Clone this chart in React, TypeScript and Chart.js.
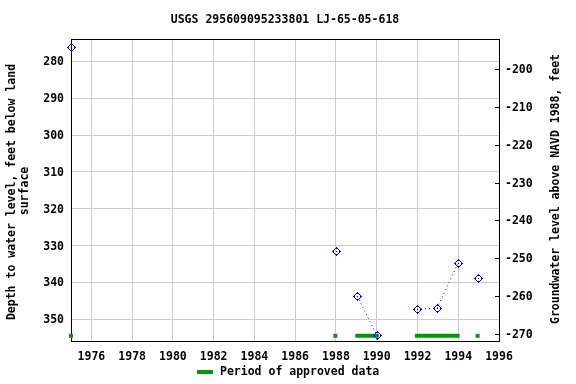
import { useEffect, useRef } from 'react';
import { Chart, registerables } from 'chart.js';

Chart.register(...registerables);

const TITLE = 'USGS 295609095233801 LJ-65-05-618';
const LEFT_TITLE_1 = 'Depth to water level, feet below land';
const LEFT_TITLE_2 = 'surface';
const RIGHT_TITLE = 'Groundwater level above NAVD 1988, feet';
const LEGEND_LABEL = 'Period of approved data';

// Measurements (decimal year, depth below land surface in feet)
const measYears = [1975.0, 1987.98, 1989.05, 1990.0, 1991.98, 1992.96, 1993.98, 1994.95];
const measDepths = [276.0, 331.4, 343.75, 354.3, 347.3, 347.0, 334.8, 338.9];
// Indices of measurements joined by dotted lines
const lineGroups = [[2, 3], [4, 5, 6]];

// Approved data periods
const approvedStarts = [1975.0, 1987.97, 1988.95, 1991.87, 1994.95];
const approvedEnds = [1975.0, 1987.97, 1990.1, 1994.07, 1994.95];
const approvedDepth = 354.5;

const xTicks = [1976, 1978, 1980, 1982, 1984, 1986, 1988, 1990, 1992, 1994, 1996];
const leftTicks = [280, 290, 300, 310, 320, 330, 340, 350];
const rightTicks = [-270, -260, -250, -240, -230, -220, -210, -200];

const X_MIN = 1975.0;
const X_MAX = 1996.0;
const LEFT_MIN = 273.9;
const LEFT_MAX = 355.9;
const RIGHT_MIN = -271.85;
const RIGHT_MAX = -192.05;

const FONT_FAMILY = "'DejaVu Sans Mono', monospace";
const FONT_SIZE = 11.5;
const FONT = `bold ${FONT_SIZE}px ${FONT_FAMILY}`;
const BLUE = '#0000ff';
const GREEN = '#009900';
const GRID = '#cccccc';

// pixel pattern of the measurement marker (ring with four stubs and a centre dot)
const MARKER_PIXELS: [number, number][] = [
  [0, -4],
  [-1, -3], [0, -3], [1, -3],
  [-2, -2], [2, -2],
  [-3, -1], [3, -1],
  [-4, 0], [-3, 0], [0, 0], [3, 0], [4, 0],
  [-3, 1], [3, 1],
  [-2, 2], [2, 2],
  [-1, 3], [0, 3], [1, 3],
  [0, 4],
];

export default function App() {
  const ref = useRef<HTMLCanvasElement | null>(null);

  useEffect(() => {
    document.body.style.margin = '0';
    const canvas = ref.current;
    if (!canvas) return;

    const points = measYears.map((x, i) => ({ x, y: measDepths[i] }));

    const lineData: any[] = [];
    lineGroups.forEach((g) => {
      g.forEach((i) => lineData.push({ x: measYears[i], y: measDepths[i] }));
      const last = g[g.length - 1];
      lineData.push({ x: measYears[last] + 0.001, y: null });
    });

    const approvedData: any[] = [];
    const approvedRadius: number[] = [];
    approvedStarts.forEach((s, i) => {
      const e = approvedEnds[i];
      if (s === e) {
        approvedData.push({ x: s, y: approvedDepth });
        approvedRadius.push(2.83);
      } else {
        approvedData.push({ x: s, y: approvedDepth });
        approvedRadius.push(0);
        approvedData.push({ x: e, y: approvedDepth });
        approvedRadius.push(0);
      }
      approvedData.push({ x: e + 0.001, y: null });
      approvedRadius.push(0);
    });

    const overlay = {
      id: 'overlay',
      beforeDatasetsDraw(chart: any) {
        const { ctx, chartArea } = chart;
        const { left, right, top, bottom } = chartArea;
        ctx.save();
        ctx.strokeStyle = '#000000';
        ctx.lineWidth = 1;
        ctx.strokeRect(Math.round(left) + 0.5, Math.round(top) + 0.5, Math.round(right - left), Math.round(bottom - top));
        const y2 = chart.scales.y2;
        ctx.fillStyle = '#000000';
        rightTicks.forEach((v) => {
          const py = Math.round(y2.getPixelForValue(v));
          ctx.fillRect(Math.round(right) - 4, py, 4, 1);
        });
        ctx.restore();
      },
      afterDatasetsDraw(chart: any) {
        const { ctx } = chart;
        const meta = chart.getDatasetMeta(0);
        ctx.save();
        ctx.fillStyle = BLUE;
        meta.data.forEach((el: any) => {
          const px = Math.round(el.x);
          const py = Math.round(el.y);
          MARKER_PIXELS.forEach(([dx, dy]) => ctx.fillRect(px + dx, py + dy, 1, 1));
        });
        ctx.restore();
      },
      afterDraw(chart: any) {
        const { ctx, chartArea } = chart;
        const cx = (chartArea.left + chartArea.right) / 2;
        ctx.save();
        ctx.font = FONT;
        ctx.fillStyle = '#000000';
        ctx.textAlign = 'center';
        ctx.textBaseline = 'middle';
        ctx.fillText(TITLE, cx, 20);

        ctx.save();
        ctx.translate(12, 192);
        ctx.rotate(-Math.PI / 2);
        ctx.fillText(LEFT_TITLE_1, 0, 0);
        ctx.restore();
        ctx.save();
        ctx.translate(25, 191);
        ctx.rotate(-Math.PI / 2);
        ctx.fillText(LEFT_TITLE_2, 0, 0);
        ctx.restore();

        ctx.save();
        ctx.translate(556, 189);
        ctx.rotate(-Math.PI / 2);
        ctx.fillText(RIGHT_TITLE, 0, 0);
        ctx.restore();

        ctx.fillStyle = GREEN;
        ctx.fillRect(197, 370, 16, 4);
        ctx.fillStyle = '#000000';
        ctx.textAlign = 'left';
        ctx.fillText(LEGEND_LABEL, 220, 372.5);
        ctx.restore();
      },
    };

    const tickFont = { family: FONT_FAMILY, size: FONT_SIZE, weight: 'bold' as const, lineHeight: '2px' };
    // two-line labels with an empty first line nudge the text 1px down
    const shifted = (v: any) => ['', String(v)];

    const chart = new Chart(canvas, {
      type: 'scatter',
      data: {
        datasets: [
          {
            label: 'measurements',
            data: points,
            showLine: false,
            pointRadius: 0,
            clip: false as any,
            order: 0,
          },
          {
            label: 'lines',
            data: lineData,
            showLine: true,
            spanGaps: false,
            borderColor: BLUE,
            borderWidth: 1,
            borderDash: [1, 3],
            pointRadius: 0,
            clip: false as any,
            order: 1,
          },
          {
            label: LEGEND_LABEL,
            data: approvedData,
            showLine: true,
            spanGaps: false,
            borderColor: GREEN,
            backgroundColor: GREEN,
            borderWidth: 4,
            borderCapStyle: 'butt',
            pointStyle: 'rect',
            pointRadius: approvedRadius,
            pointBorderWidth: 0,
            pointBackgroundColor: GREEN,
            clip: false as any,
            order: 2,
          },
        ],
      },
      options: {
        responsive: false,
        animation: false,
        layout: { padding: { top: 39, left: 0, right: 0, bottom: 0 } },
        plugins: {
          legend: { display: false },
          title: { display: false },
          tooltip: { enabled: false },
        },
        scales: {
          x: {
            type: 'linear',
            position: 'bottom',
            min: X_MIN,
            max: X_MAX,
            afterBuildTicks: (s: any) => {
              s.ticks = xTicks.map((v) => ({ value: v }));
            },
            afterFit: (s: any) => {
              s.height = 43;
            },
            grid: { color: GRID, drawTicks: false, lineWidth: 1 },
            border: { display: false },
            ticks: {
              color: '#000000',
              padding: 9,
              maxRotation: 0,
              autoSkip: false,
              font: { family: FONT_FAMILY, size: FONT_SIZE, weight: 'bold' },
              callback: (v: any) => String(v),
            },
          },
          y: {
            type: 'linear',
            position: 'left',
            reverse: true,
            min: LEFT_MIN,
            max: LEFT_MAX,
            afterBuildTicks: (s: any) => {
              s.ticks = leftTicks.map((v) => ({ value: v }));
            },
            afterFit: (s: any) => {
              s.width = 71;
            },
            grid: { color: GRID, drawTicks: false, lineWidth: 1 },
            border: { display: false },
            ticks: {
              color: '#000000',
              padding: 7,
              autoSkip: false,
              font: tickFont,
              callback: shifted,
            },
          },
          y2: {
            type: 'linear',
            position: 'right',
            min: RIGHT_MIN,
            max: RIGHT_MAX,
            afterBuildTicks: (s: any) => {
              s.ticks = rightTicks.map((v) => ({ value: v }));
            },
            afterFit: (s: any) => {
              s.width = 77;
            },
            grid: { display: false, drawOnChartArea: false, drawTicks: false },
            border: { display: false },
            ticks: {
              color: '#000000',
              padding: 6,
              autoSkip: false,
              font: tickFont,
              callback: shifted,
            },
          },
        },
      },
      plugins: [overlay],
    });

    return () => {
      chart.destroy();
    };
  }, []);

  return <canvas ref={ref} width={576} height={384} style={{ display: 'block' }} />;
}
